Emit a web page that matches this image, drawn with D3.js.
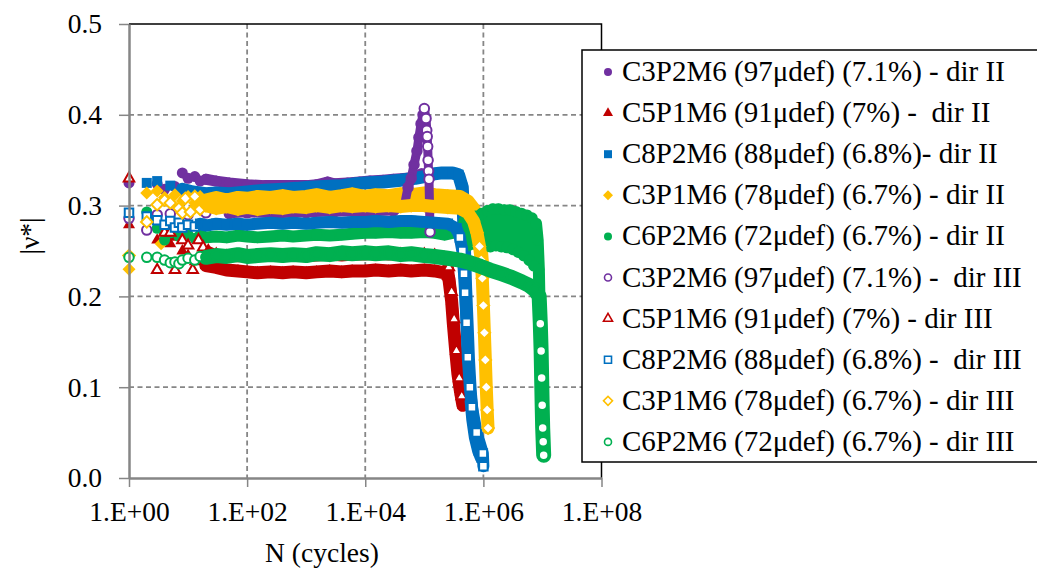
<!DOCTYPE html>
<html><head><meta charset="utf-8">
<script src="https://cdn.jsdelivr.net/npm/d3@7"></script>
<style>
body{margin:0;background:#fff;}
svg{display:block;}
</style>
</head><body>
<svg id="chart" width="1037" height="572"></svg>
<script>
// ---------------- data ----------------
const xTickValues = [1, 1e2, 1e4, 1e6, 1e8];
const xTickLabels = ["1.E+00", "1.E+02", "1.E+04", "1.E+06", "1.E+08"];
const yTickValues = [0, 0.1, 0.2, 0.3, 0.4, 0.5];
const yTickLabels = ["0.0", "0.1", "0.2", "0.3", "0.4", "0.5"];
const xGridValues = [1e2, 1e4, 1e6];
const yGridValues = [0.1, 0.2, 0.3, 0.4];
const xAxisTitle = "N (cycles)";
const yAxisTitle = "|\u03BD*|";

const seriesNames = [
  "C3P2M6 (97\u03BCdef) (7.1%) - dir II",
  "C5P1M6 (91\u03BCdef) (7%) -  dir II",
  "C8P2M6 (88\u03BCdef) (6.8%)- dir II",
  "C3P1M6 (78\u03BCdef) (6.7%) - dir II",
  "C6P2M6 (72\u03BCdef) (6.7%) - dir II",
  "C3P2M6 (97\u03BCdef) (7.1%) -  dir III",
  "C5P1M6 (91\u03BCdef) (7%) - dir III",
  "C8P2M6 (88\u03BCdef) (6.8%) -  dir III",
  "C3P1M6 (78\u03BCdef) (6.7%) - dir III",
  "C6P2M6 (72\u03BCdef) (6.7%) - dir III"
];

// [N cycles, |nu*|]
const c3p2m6_II = [[1,0.325],[3,0.324],[4,0.318],[6,0.321],[8,0.336],[10,0.330],[13,0.332],[16,0.327],[20,0.329],[30,0.327],[50,0.325],[100,0.323],[200,0.322],[400,0.322],[700,0.322],[1e3,0.322],[1.5e3,0.323],[2.3e3,0.326],[3e3,0.324],[5e3,0.325],[8e3,0.326],[1.2e4,0.327],[2e4,0.328],[3e4,0.329],[5e4,0.330],[7e4,0.332],[9e4,0.335]];
const c5p1m6_II = [[1,0.279],[3,0.262],[4,0.272],[5,0.258],[6,0.265],[8,0.250],[10,0.245],[13,0.238],[16,0.240],[20,0.234],[30,0.232],[45,0.229],[70,0.228],[100,0.227],[150,0.226],[250,0.227],[400,0.226],[600,0.227],[1e3,0.226],[1.5e3,0.227],[2.5e3,0.228],[4e3,0.227],[6e3,0.228],[1e4,0.228],[1.5e4,0.229],[2.5e4,0.228],[4e4,0.229],[6e4,0.228],[1e5,0.229],[1.5e5,0.228],[2.2e5,0.226],[2.6e5,0.220],[2.9e5,0.195],[3.1e5,0.170],[3.4e5,0.140],[3.7e5,0.115],[4.1e5,0.095],[4.5e5,0.080]];
const c8p2m6_II = [[2,0.325],[3,0.327],[5,0.322],[8,0.318],[12,0.315],[20,0.313],[30,0.314],[50,0.313],[100,0.315],[200,0.317],[400,0.318],[700,0.319],[1e3,0.320],[2e3,0.321],[4e3,0.322],[7e3,0.324],[1e4,0.325],[2e4,0.326],[4e4,0.328],[7e4,0.330],[1e5,0.332],[1.5e5,0.335],[2e5,0.336],[3e5,0.336],[3.8e5,0.334],[4.4e5,0.320],[4.6e5,0.290],[4.8e5,0.250],[5e5,0.210],[5.3e5,0.170],[5.6e5,0.130],[6e5,0.095],[6.6e5,0.065],[7.3e5,0.045],[8.3e5,0.030],[9.3e5,0.022]];
const c3p1m6_II = [[1,0.230],[2,0.314],[3,0.316],[3.5,0.258],[4,0.309],[5,0.303],[6,0.312],[8,0.305],[10,0.310],[13,0.303],[16,0.310],[20,0.306],[30,0.309],[45,0.306],[70,0.309],[100,0.308],[150,0.310],[250,0.309],[400,0.311],[600,0.309],[1e3,0.310],[1.5e3,0.312],[2.5e3,0.309],[4e3,0.311],[6e3,0.313],[1e4,0.310],[1.5e4,0.312],[2.5e4,0.311],[4e4,0.313],[6e4,0.312],[1e5,0.314],[1.5e5,0.312],[2.5e5,0.311],[4e5,0.310],[5.5e5,0.305],[7e5,0.296],[8e5,0.283],[9e5,0.262],[9.6e5,0.238]];
const c6p2m6_II = [[2,0.293],[3,0.275],[4,0.262],[5,0.270],[7,0.266],[10,0.268],[13,0.264],[16,0.267],[20,0.265],[30,0.266],[45,0.265],[70,0.267],[100,0.266],[150,0.265],[250,0.266],[400,0.267],[600,0.266],[1e3,0.267],[1.5e3,0.268],[2.5e3,0.267],[4e3,0.268],[6e3,0.269],[1e4,0.270],[1.5e4,0.270],[2.5e4,0.271],[4e4,0.270],[6e4,0.270],[1e5,0.271],[1.5e5,0.270],[2.2e5,0.268],[3e5,0.270],[3.8e5,0.275],[4.3e5,0.262],[4.8e5,0.283],[5.4e5,0.256],[6e5,0.286],[6.7e5,0.258],[7.5e5,0.288],[8.4e5,0.257],[9.4e5,0.291],[1.05e6,0.256],[1.17e6,0.294],[1.3e6,0.255],[1.45e6,0.296],[1.62e6,0.256],[1.8e6,0.296],[2e6,0.255],[2.25e6,0.295],[2.5e6,0.254],[2.8e6,0.295],[3.15e6,0.252],[3.5e6,0.293],[3.9e6,0.249],[4.35e6,0.291],[4.85e6,0.245],[5.4e6,0.289],[6e6,0.240],[6.6e6,0.286],[7.2e6,0.234],[7.8e6,0.280],[8.3e6,0.262],[8.7e6,0.230],[9e6,0.180],[9.3e6,0.130],[9.6e6,0.080],[9.9e6,0.045],[1.03e7,0.025]];
const c3p2m6_III = [[1,0.286],[2,0.273],[3,0.290],[5,0.291],[10,0.290],[20,0.292],[50,0.291],[100,0.292],[300,0.291],[1e3,0.292],[3e3,0.293],[1e4,0.293],[3e4,0.294],[4.6e4,0.300],[5.3e4,0.320],[6e4,0.330],[6.7e4,0.345],[7.5e4,0.360],[8.1e4,0.375],[8.8e4,0.390],[9.5e4,0.400],[1e5,0.407],[1.07e5,0.396],[1.1e5,0.383],[1.12e5,0.376],[1.14e5,0.365],[1.16e5,0.350],[1.18e5,0.338],[1.2e5,0.329],[1.25e5,0.271]];
const c5p1m6_III = [[1,0.330],[3,0.229],[4,0.270],[5,0.270],[6,0.229],[8,0.262],[10,0.256],[12,0.229],[15,0.262],[18,0.254],[22,0.250],[30,0.246],[45,0.244],[70,0.243],[100,0.244],[150,0.243],[250,0.244],[400,0.243],[600,0.244],[1e3,0.243],[1.5e3,0.244],[2.5e3,0.245],[4e3,0.244],[6e3,0.245],[1e4,0.245],[1.5e4,0.246],[2.5e4,0.245],[4e4,0.246],[6e4,0.246],[1e5,0.246],[1.5e5,0.245],[2.2e5,0.242],[2.6e5,0.232],[2.9e5,0.205],[3.2e5,0.175],[3.5e5,0.140],[3.9e5,0.110],[4.3e5,0.090]];
const c8p2m6_III = [[1,0.292],[2,0.288],[3,0.284],[4,0.279],[5,0.283],[6,0.276],[7,0.281],[8,0.276],[10,0.279],[13,0.277],[16,0.280],[20,0.278],[30,0.280],[45,0.279],[70,0.280],[100,0.279],[150,0.280],[250,0.281],[400,0.280],[600,0.281],[1e3,0.280],[1.5e3,0.281],[2.5e3,0.282],[4e3,0.281],[6e3,0.282],[1e4,0.282],[1.5e4,0.283],[2.5e4,0.282],[4e4,0.283],[6e4,0.283],[1e5,0.282],[1.5e5,0.281],[2.5e5,0.280],[3.5e5,0.275],[4e5,0.265],[4.4e5,0.250],[4.7e5,0.225],[4.9e5,0.204],[5.2e5,0.171],[5.45e5,0.133],[5.9e5,0.100],[6.4e5,0.078],[7.7e5,0.050],[9.8e5,0.027],[1e6,0.013]];
const c3p1m6_III = [[1,0.245],[2,0.282],[3,0.301],[4,0.306],[5,0.303],[7,0.297],[8,0.292],[9,0.308],[11,0.293],[13,0.310],[16,0.296],[20,0.300],[30,0.297],[45,0.299],[70,0.296],[100,0.298],[150,0.296],[250,0.298],[400,0.297],[600,0.299],[1e3,0.298],[1.5e3,0.300],[2.5e3,0.298],[4e3,0.300],[6e3,0.299],[1e4,0.300],[1.5e4,0.299],[2.5e4,0.300],[4e4,0.299],[6e4,0.300],[1e5,0.300],[1.5e5,0.299],[2.5e5,0.298],[4e5,0.297],[5.5e5,0.292],[6.8e5,0.283],[7.8e5,0.270],[8.6e5,0.255],[9.2e5,0.240],[9.6e5,0.220],[1e6,0.190],[1.04e6,0.160],[1.08e6,0.130],[1.12e6,0.100],[1.16e6,0.075],[1.2e6,0.055]];
const c6p2m6_III = [[1,0.243],[2,0.243],[3,0.243],[4,0.240],[5,0.237],[6,0.238],[7,0.236],[8,0.240],[10,0.242],[13,0.240],[16,0.244],[20,0.243],[30,0.245],[45,0.244],[70,0.246],[100,0.244],[150,0.245],[250,0.246],[400,0.245],[600,0.246],[1e3,0.245],[1.5e3,0.247],[2.5e3,0.246],[4e3,0.248],[6e3,0.247],[1e4,0.248],[1.5e4,0.247],[2.5e4,0.248],[4e4,0.246],[6e4,0.247],[1e5,0.245],[1.5e5,0.244],[2.5e5,0.242],[4e5,0.240],[6e5,0.237],[9e5,0.233],[1.3e6,0.229],[2e6,0.225],[3e6,0.221],[4.5e6,0.216],[6e6,0.212],[7.5e6,0.207],[8.8e6,0.200],[9.2e6,0.170],[9.5e6,0.140],[9.7e6,0.110],[9.9e6,0.080],[1.01e7,0.055],[1.03e7,0.040],[1.05e7,0.025]];

const seriesData = [c3p2m6_II, c5p1m6_II, c8p2m6_II, c3p1m6_II, c6p2m6_II,
                    c3p2m6_III, c5p1m6_III, c8p2m6_III, c3p1m6_III, c6p2m6_III];

// ---------------- styles ----------------
const FONT = "'Liberation Serif', 'Times New Roman', serif";
const colors = ["#7030A0", "#C00000", "#0070C0", "#FFC000", "#00B050",
                "#7030A0", "#C00000", "#0070C0", "#FFC000", "#00B050"];
const shapes = ["circle", "triangle", "square", "diamond", "circle",
                "circle", "triangle", "square", "diamond", "circle"];
const filled = [true, true, true, true, true, false, false, false, false, false];
const bandWidth = [11, 13, 13, 13, 12, 9, 10, 12, 13, 15];
const bandFrom = [20, 20, 8, 20, 16, 30, 20, 16, 20, 20];
// open markers look solid while they pile up inside a dense band
const denseUntil = [0, 0, 0, 0, 0, 9.6e4, 2.2e5, 3.5e5, 7.8e5, 8.8e6];

// ---------------- layout ----------------
const plot = {left: 129, right: 601.5, top: 24, bottom: 478};
const svg = d3.select("#chart").attr("font-family", FONT);

const x = d3.scaleLog().domain([1, 1e8]).range([plot.left, plot.right]);
const y = d3.scaleLinear().domain([0, 0.5]).range([plot.bottom, plot.top]);

function symbolPath(shape, s) {
  if (shape === "circle") return d3.symbol(d3.symbolCircle, Math.PI * (s / 2) * (s / 2))();
  if (shape === "square") return d3.symbol(d3.symbolSquare, s * s)();
  if (shape === "triangle") return d3.symbol(d3.symbolTriangle, s * s * Math.sqrt(3) / 4)();
  if (shape === "diamond") { const a = s / Math.SQRT2; return d3.symbol(d3.symbolSquare, a * a)(); }
}
function symbolRot(shape) { return shape === "diamond" ? " rotate(45)" : ""; }
const markerSize = {circle: 11, square: 10, triangle: 12, diamond: 13};

// gridlines
const gridColor = "#868686";
svg.append("g").selectAll("line").data(yGridValues).join("line")
  .attr("x1", plot.left).attr("x2", plot.right)
  .attr("y1", d => y(d)).attr("y2", d => y(d))
  .attr("stroke", gridColor).attr("stroke-width", 1.8).attr("stroke-dasharray", "5,3.5");
svg.append("g").selectAll("line").data(xGridValues).join("line")
  .attr("x1", d => x(d)).attr("x2", d => x(d))
  .attr("y1", plot.top).attr("y2", plot.bottom)
  .attr("stroke", gridColor).attr("stroke-width", 1.8).attr("stroke-dasharray", "5,3.5");

// top and right border of plot area
svg.append("path")
  .attr("d", `M${plot.left},${plot.top}H${plot.right}V${plot.bottom}`)
  .attr("fill", "none").attr("stroke", "#000").attr("stroke-width", 1.5);

// series
const gSeries = svg.append("g");
seriesData.forEach((data, i) => {
  const g = gSeries.append("g");
  const line = d3.line()
    .defined(d => d[0] >= bandFrom[i])
    .x(d => x(d[0])).y(d => y(d[1]));
  g.append("path").datum(data)
    .attr("d", line)
    .attr("fill", "none").attr("stroke", colors[i])
    .attr("stroke-width", bandWidth[i])
    .attr("stroke-linejoin", "round").attr("stroke-linecap", "round");
  const sz = markerSize[shapes[i]] - (filled[i] ? 0 : 1.5);
  g.selectAll("path.m").data(data).join("path").attr("class", "m")
    .attr("d", symbolPath(shapes[i], sz))
    .attr("transform", d => `translate(${x(d[0])},${y(d[1])})${symbolRot(shapes[i])}`)
    .attr("fill", d => (filled[i] || (d[0] >= bandFrom[i] && d[0] <= denseUntil[i])) ? colors[i] : "#fff")
    .attr("stroke", colors[i]).attr("stroke-width", filled[i] ? 0 : 2);
});

// axes
const axisColor = "#868686";
const gx = svg.append("g").attr("transform", `translate(0,${plot.bottom})`)
  .call(d3.axisBottom(x).tickValues(xTickValues).tickFormat((d, i) => xTickLabels[i])
        .tickSizeInner(9).tickSizeOuter(0).tickPadding(14));
gx.attr("font-family", FONT);
gx.select(".domain").attr("stroke", axisColor).attr("stroke-width", 2.5);
gx.selectAll(".tick line").attr("stroke", axisColor).attr("stroke-width", 1.5);
gx.selectAll(".tick text").attr("font-size", 27.5).attr("fill", "#000");

const gy = svg.append("g").attr("transform", `translate(${plot.left},0)`)
  .call(d3.axisLeft(y).tickValues(yTickValues).tickFormat((d, i) => yTickLabels[i])
        .tickSizeInner(10).tickSizeOuter(0).tickPadding(17));
gy.attr("font-family", FONT);
gy.select(".domain").attr("stroke", axisColor).attr("stroke-width", 2.5);
gy.selectAll(".tick line").attr("stroke", axisColor).attr("stroke-width", 1.5);
gy.selectAll(".tick text").attr("font-size", 27.5).attr("fill", "#000");

// axis titles
svg.append("text").attr("x", 322).attr("y", 562).attr("text-anchor", "middle")
  .attr("font-size", 27.5).text(xAxisTitle);
svg.append("text").attr("transform", "translate(39,236) rotate(-90)")
  .attr("text-anchor", "middle").attr("font-size", 27.5).text(yAxisTitle);

// legend
const leg = svg.append("g");
leg.append("rect").attr("x", 582).attr("y", 50).attr("width", 470).attr("height", 412)
  .attr("fill", "#fff").attr("stroke", "#000").attr("stroke-width", 1.5);
const legSize = {circle: 8, square: 8, triangle: 10, diamond: 10};
seriesNames.forEach((name, i) => {
  const cy = 72 + i * 41.1;
  const sz = legSize[shapes[i]] - (filled[i] ? 0 : 1);
  leg.append("path").attr("d", symbolPath(shapes[i], sz))
    .attr("transform", `translate(608,${cy})${symbolRot(shapes[i])}`)
    .attr("fill", filled[i] ? colors[i] : "#fff")
    .attr("stroke", colors[i]).attr("stroke-width", filled[i] ? 0 : 1.6);
  leg.append("text").attr("x", 622).attr("y", cy + 9)
    .attr("font-size", 29).style("white-space", "pre").text(name);
});
</script>
</body></html>
